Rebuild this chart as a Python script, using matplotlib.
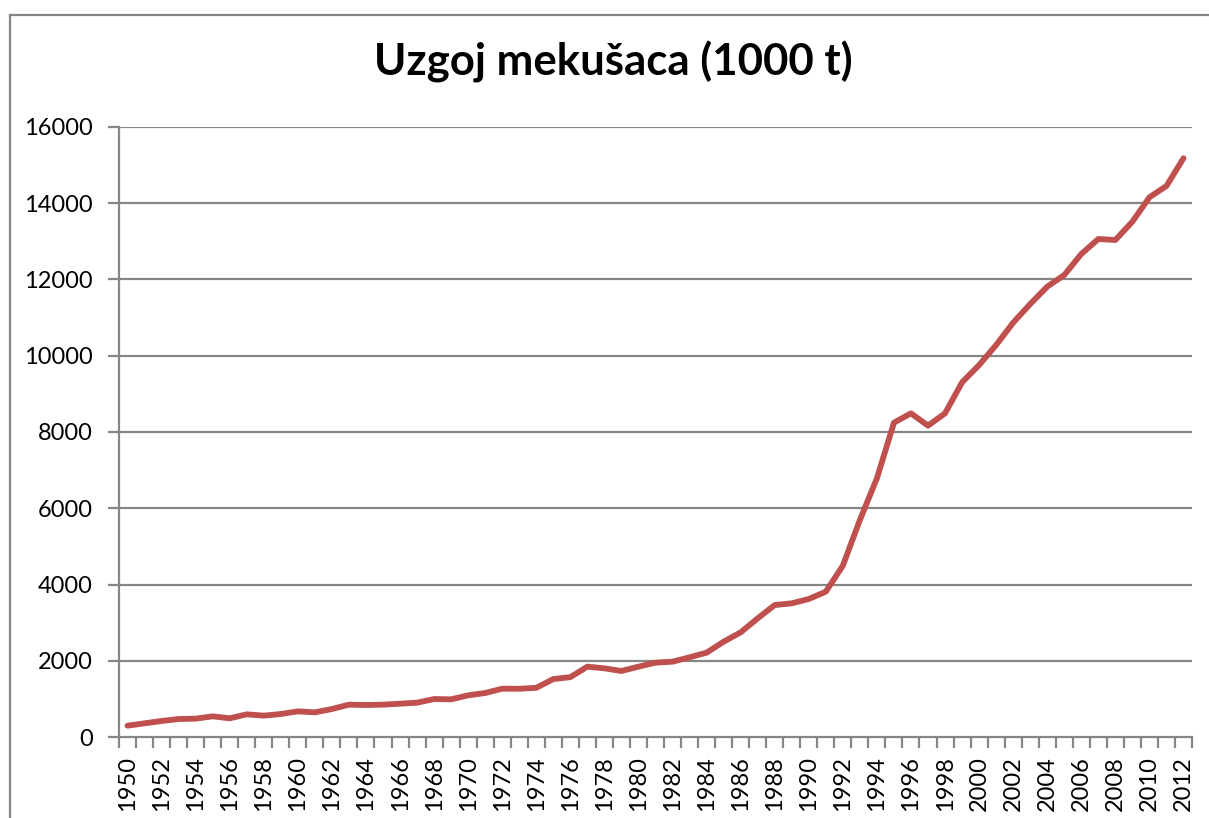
import matplotlib
matplotlib.use("Agg")
import matplotlib.pyplot as plt
from matplotlib.lines import Line2D
from matplotlib.ticker import FixedLocator, NullFormatter

years = list(range(1950, 2013))
values = [297, 359, 420, 472, 481, 542, 490, 595, 560, 603,
          673, 647, 734, 848, 839, 848, 874, 900, 996, 988,
          1093, 1154, 1267, 1265, 1290, 1520, 1570, 1845, 1801, 1731,
          1845, 1950, 1976, 2090, 2212, 2500, 2745, 3112, 3462, 3506,
          3620, 3812, 4494, 5692, 6786, 8245, 8490, 8166, 8490, 9303,
          9757, 10282, 10867, 11357, 11812, 12118, 12669, 13062, 13036, 13517,
          14156, 14453, 15180]
yticks = list(range(0, 16001, 2000))
title = "Uzgoj mekušaca (1000 t)"

W, H = 1209, 818
fig = plt.figure(figsize=(W / 100, H / 100), dpi=100)
plt.rcParams['font.family'] = ['Lato', 'DejaVu Sans']

ax = fig.add_axes([119 / W, 1 - 737 / H, (1192 - 119) / W, (737 - 127) / H])
gray = '#868686'
xs = list(range(len(years)))
ax.plot(xs, values, color='#C0504D', lw=4.2, solid_joinstyle='round', solid_capstyle='round', zorder=3)

ax.set_xlim(-0.5, len(years) - 0.5)
ax.set_ylim(0, 16000)
ax.set_yticks(yticks)
ax.set_yticklabels([str(v) for v in yticks], fontsize=17)
for y in yticks[1:]:
    ax.axhline(y, color=gray, lw=1.6, zorder=1)

major = [i for i in xs if years[i] % 2 == 0]
ax.set_xticks(major)
ax.set_xticklabels([str(years[i]) for i in major], rotation=90, fontsize=17)
ax.xaxis.set_minor_locator(FixedLocator([i - 0.5 for i in range(len(years) + 1)]))
ax.xaxis.set_minor_formatter(NullFormatter())
ax.tick_params(axis='x', which='major', length=0, pad=14)
ax.tick_params(axis='x', which='minor', length=8, width=1.6, color=gray)
ax.tick_params(axis='y', length=8, width=1.6, color=gray, pad=11)

for s in ['top', 'right']:
    ax.spines[s].set_visible(False)
for s in ['left', 'bottom']:
    ax.spines[s].set_color(gray)
    ax.spines[s].set_linewidth(1.6)

fig.text(613 / W, 1 - 62 / H, title, ha='center', va='center', fontsize=31.5, fontweight='bold')

fig.add_artist(Line2D([10 / W, 1], [1 - 15 / H, 1 - 15 / H], color=gray, lw=1.6, transform=fig.transFigure))
fig.add_artist(Line2D([10 / W, 10 / W], [1 - 15 / H, 0], color=gray, lw=1.6, transform=fig.transFigure))

fig.savefig('out.png', dpi=100)
